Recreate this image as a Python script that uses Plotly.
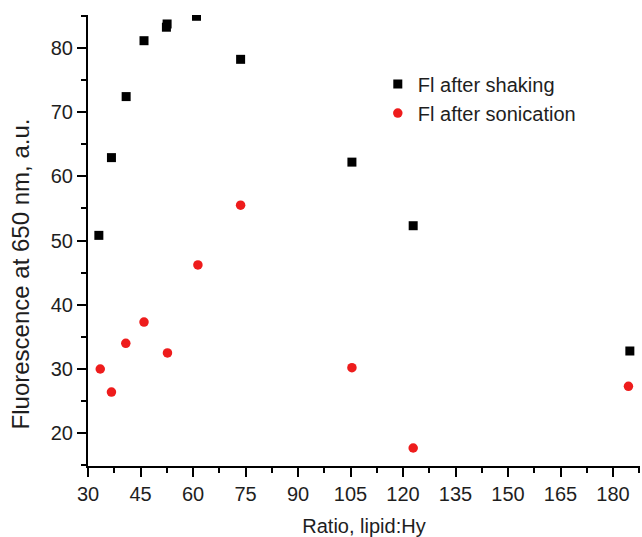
import plotly.graph_objects as go

# Lipid:Hy ratio and fluorescence at 650 nm (a.u.)
shaking_ratio = [33.1, 36.7, 40.9, 46.0, 52.4, 52.6, 61.0, 73.6, 105.4, 122.9, 184.8]
shaking_fl = [50.8, 62.9, 72.4, 81.1, 83.2, 83.7, 84.9, 78.2, 62.2, 52.3, 32.8]

sonication_ratio = [33.5, 36.7, 40.8, 46.0, 52.7, 61.4, 73.6, 105.4, 122.9, 184.4]
sonication_fl = [30.0, 26.4, 34.0, 37.3, 32.5, 46.2, 55.5, 30.2, 17.7, 27.3]

x_ticks = [30, 45, 60, 75, 90, 105, 120, 135, 150, 165, 180]
y_ticks = [20, 30, 40, 50, 60, 70, 80]

font_family = "Liberation Sans, Arial, sans-serif"
text_color = "#1e1e1e"

fig = go.Figure()
fig.add_trace(go.Scatter(
    x=shaking_ratio, y=shaking_fl, mode="markers", name="Fl after shaking",
    marker=dict(symbol="square", size=9, color="black"),
))
fig.add_trace(go.Scatter(
    x=sonication_ratio, y=sonication_fl, mode="markers", name="Fl after sonication",
    marker=dict(symbol="circle", size=9.5, color="#ee1c1c"),
))

axis_common = dict(
    showline=True, linecolor="black", linewidth=2,
    showgrid=False, zeroline=False,
    ticks="outside", ticklen=9, tickwidth=2, tickcolor="black",
    tickfont=dict(size=20, color=text_color, family=font_family),
    minor=dict(ticks="outside", ticklen=5, tickwidth=2, tickcolor="black"),
)

fig.update_xaxes(
    range=[30, 187.7], tickvals=x_ticks,
    title=dict(text="Ratio, lipid:Hy", font=dict(size=20, color=text_color, family=font_family), standoff=16),
    **axis_common,
)
fig.update_xaxes(minor_dtick=7.5, minor_tick0=30)
fig.update_yaxes(range=[14.9, 85.1], tickvals=y_ticks, **axis_common)
fig.update_yaxes(minor_dtick=5, minor_tick0=15)

# Vertical axis title, placed as a rotated annotation beside the tick labels
fig.add_annotation(
    text="Fluorescence at 650 nm, a.u.",
    xref="paper", yref="paper", x=-0.123, y=0.425,
    xanchor="center", yanchor="middle", textangle=-90, showarrow=False,
    font=dict(size=24, color=text_color, family=font_family),
)

fig.update_layout(
    width=642, height=537,
    margin=dict(l=88, r=2, t=15, b=71),
    plot_bgcolor="white", paper_bgcolor="white",
    showlegend=True,
    legend=dict(
        x=0.525, y=0.89, xanchor="left", yanchor="top",
        font=dict(size=20, color=text_color, family=font_family),
        bgcolor="rgba(0,0,0,0)", itemwidth=30, tracegroupgap=0,
    ),
)

fig.write_html("out.html")
